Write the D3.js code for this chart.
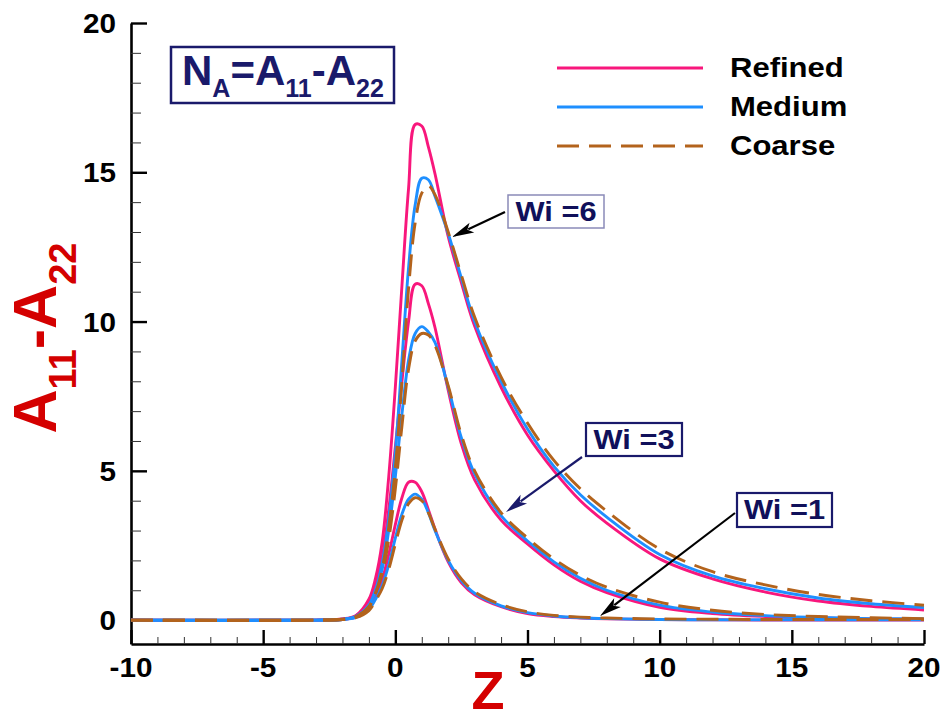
<!DOCTYPE html>
<html><head><meta charset="utf-8">
<script src="https://cdn.jsdelivr.net/npm/d3@7"></script>
<style>body{margin:0;background:#fff}svg{display:block}</style>
</head><body>
<svg id="c" width="947" height="721"></svg>
<script>
// ---------- data ----------
const zValues = [-10,-3,-2,-1.5,-1,-0.75,-0.5,-0.25,0,0.25,0.5,0.75,1,1.25,1.5,2,2.5,3,4,5,6,7,8,10,12,14,16,18,20];
const wi6Refined = [0,0,0.04,0.15,0.7,1.4,2.6,4.8,7.8,11.2,14.45,16.6,16.55,15.85,14.95,12.85,11.3,9.85,7.8,6.2,5.0,4.0,3.25,2.05,1.38,0.94,0.64,0.46,0.34];
const wi6Medium  = [0,0,0.03,0.12,0.5,1.0,1.9,3.4,5.6,8.7,11.8,13.9,14.8,14.75,14.2,12.95,11.45,10.0,8.0,6.4,5.15,4.2,3.45,2.2,1.48,1.05,0.74,0.55,0.42];
const wi6Coarse  = [0,0,0.03,0.11,0.45,0.9,1.7,3.1,5.1,8.0,11.1,13.3,14.3,14.55,14.25,13.0,11.55,10.15,8.15,6.6,5.35,4.4,3.65,2.38,1.62,1.18,0.86,0.65,0.5];
const wi3Refined = [0,0,0.03,0.14,0.6,1.2,2.1,3.7,5.8,8.0,10.0,11.25,11.2,10.6,9.8,7.7,5.9,4.7,3.35,2.55,1.85,1.3,0.92,0.43,0.22,0.12,0.07,0.04,0.03];
const wi3Medium  = [0,0,0.02,0.12,0.5,1.0,1.7,3.0,4.8,6.9,8.7,9.6,9.83,9.65,9.3,7.8,6.1,4.9,3.5,2.65,1.95,1.4,1.0,0.5,0.27,0.15,0.09,0.05,0.04];
const wi3Coarse  = [0,0,0.02,0.11,0.45,0.9,1.55,2.7,4.4,6.5,8.4,9.35,9.6,9.55,9.2,7.85,6.2,5.0,3.6,2.75,2.05,1.5,1.1,0.6,0.33,0.19,0.12,0.08,0.05];
const wi1Refined = [0,0,0.02,0.1,0.4,0.8,1.35,2.2,3.2,4.1,4.62,4.62,4.3,3.7,3.05,1.95,1.25,0.85,0.45,0.22,0.12,0.07,0.04,0.02,0.01,0,0,0,0];
const wi1Medium  = [0,0,0.02,0.09,0.35,0.7,1.15,1.85,2.75,3.55,4.05,4.22,4.05,3.6,3.0,2.0,1.32,0.9,0.48,0.25,0.14,0.08,0.05,0.02,0.01,0.01,0.01,0.01,0.01];
const wi1Coarse  = [0,0,0.02,0.08,0.32,0.65,1.05,1.7,2.55,3.35,3.9,4.1,4.0,3.6,3.05,2.05,1.38,0.95,0.52,0.28,0.16,0.1,0.07,0.04,0.03,0.02,0.02,0.02,0.02];
const seriesNames = ["Refined","Medium","Coarse"];
const xTicks = [-10,-5,0,5,10,15,20];
const yTicks = [0,5,10,15,20];
const xMinor = [-9,-8,-7,-6,-4,-3,-2,-1,1,2,3,4,6,7,8,9,11,12,13,14,16,17,18,19];
const yMinor = [1,2,3,4,6,7,8,9,11,12,13,14,16,17,18,19];
const annotationLabels = ["Wi =6","Wi =3","Wi =1"];

// ---------- setup ----------
const svg = d3.select("#c");
const FONT = "'Liberation Sans', Arial, sans-serif";
const SX = 1.1;
const x = d3.scaleLinear().domain([-10,20]).range([131,924]);
const y = d3.scaleLinear().domain([-0.8,20]).range([644,23]);
const colors = {Refined:"#f8177c", Medium:"#1e8fff", Coarse:"#b3631c"};
const dash = {Refined:null, Medium:null, Coarse:"22,10"};

function stext(sel, tx, ty, str, size, anchor, fill, sx){
  return sel.append("text")
    .attr("transform", `translate(${tx},${ty}) scale(${sx},1)`)
    .attr("text-anchor", anchor)
    .attr("font-family", FONT).attr("font-weight","bold")
    .attr("font-size", size).attr("fill", fill).text(str);
}

// ---------- axes ----------
const gx = svg.append("g").attr("transform","translate(0,644)")
  .call(d3.axisBottom(x).tickValues(xTicks).tickSize(-14).tickSizeOuter(0).tickFormat(""));
svg.append("g").attr("transform","translate(0,644)")
  .call(d3.axisBottom(x).tickValues(xMinor).tickSize(-7).tickSizeOuter(0).tickFormat(""))
  .call(g=>g.select(".domain").remove())
  .selectAll("line").attr("stroke","#333").attr("stroke-width",1);
const gy = svg.append("g").attr("transform","translate(131,0)")
  .call(d3.axisLeft(y).tickValues(yTicks).tickSize(-16).tickSizeOuter(0).tickFormat(""));
svg.append("g").attr("transform","translate(131,0)")
  .call(d3.axisLeft(y).tickValues(yMinor).tickSize(-10).tickSizeOuter(0).tickFormat(""))
  .call(g=>g.select(".domain").remove())
  .selectAll("line").attr("stroke","#333").attr("stroke-width",1);
[gx,gy].forEach(g=>{
  g.select(".domain").attr("stroke","#000").attr("stroke-width",2.6);
  g.selectAll(".tick line").attr("stroke","#000").attr("stroke-width",2.4);
});
xTicks.forEach(v=>stext(svg, x(v), 677, String(v), 27, "middle", "#000", SX));
yTicks.forEach(v=>stext(svg, 116, y(v)+10, String(v), 27, "end", "#000", SX));

// axis titles
stext(svg, 488, 709, "Z", 54, "middle", "#d40000", 1);
const yl = svg.append("text")
  .attr("transform","translate(56,338) rotate(-90)")
  .attr("text-anchor","middle").attr("font-family",FONT).attr("font-weight","bold")
  .attr("font-size",61).attr("fill","#d40000");
yl.append("tspan").text("A");
yl.append("tspan").attr("font-size",38).attr("dy",20).text("11");
yl.append("tspan").attr("dy",-20).text("-A");
yl.append("tspan").attr("font-size",38).attr("dy",20).text("22");

// ---------- curves ----------
const line = d3.line()
  .x((d,i)=>x(zValues[i]))
  .y(d=>y(d))
  .curve(d3.curveCatmullRom.alpha(0.5));
const groups = {
  Refined:[wi6Refined,wi3Refined,wi1Refined],
  Medium:[wi6Medium,wi3Medium,wi1Medium],
  Coarse:[wi6Coarse,wi3Coarse,wi1Coarse]
};
seriesNames.forEach(name=>{
  svg.append("g").selectAll("path").data(groups[name]).join("path")
    .attr("d", line).attr("fill","none")
    .attr("stroke", colors[name]).attr("stroke-width", 2.9)
    .attr("stroke-dasharray", dash[name]);
});

// ---------- legend ----------
const legY = [68,107,146];
seriesNames.forEach((name,i)=>{
  svg.append("line").attr("x1",557).attr("x2",703).attr("y1",legY[i]).attr("y2",legY[i])
    .attr("stroke",colors[name]).attr("stroke-width",3).attr("stroke-dasharray",dash[name]);
  stext(svg, 730, legY[i]+9, name, 27, "start", "#000", 1.15);
});

// ---------- title box ----------
svg.append("rect").attr("x",171).attr("y",47).attr("width",223).attr("height",56)
  .attr("fill","#fff").attr("stroke","#1a1a6b").attr("stroke-width",2.5);
const tt = svg.append("text").attr("x",182).attr("y",85)
  .attr("font-family",FONT).attr("font-weight","bold").attr("font-size",42).attr("fill","#1a1a6b");
tt.append("tspan").text("N");
tt.append("tspan").attr("font-size",25).attr("dy",12).text("A");
tt.append("tspan").attr("dy",-12).text("=A");
tt.append("tspan").attr("font-size",25).attr("dy",12).text("11");
tt.append("tspan").attr("dy",-12).text("-A");
tt.append("tspan").attr("font-size",25).attr("dy",12).text("22");

// ---------- annotations ----------
function arrow(x1,y1,x2,y2,color){
  const dx=x2-x1, dy=y2-y1, L=Math.hypot(dx,dy), ux=dx/L, uy=dy/L;
  const hl=22, hw=5.5;
  const bx=x2-ux*hl, by=y2-uy*hl;
  svg.append("line").attr("x1",x1).attr("y1",y1).attr("x2",bx+ux*4).attr("y2",by+uy*4)
    .attr("stroke",color).attr("stroke-width",2.2);
  svg.append("path").attr("d",`M${x2},${y2}L${bx-uy*hw},${by+ux*hw}L${bx+ux*5},${by+uy*5}L${bx+uy*hw},${by-ux*hw}Z`)
    .attr("fill",color);
}
const boxes = [
  {x:508,y:195,w:96,h:33,stroke:"#8a8ab8",sw:1.5,ax1:505,ay1:212,ax2:452,ay2:237,ac:"#000"},
  {x:586,y:423,w:96,h:33,stroke:"#1a1a6b",sw:2.2,ax1:582,ay1:457,ax2:506,ay2:512,ac:"#1a1a6b"},
  {x:737,y:493,w:95,h:34,stroke:"#1a1a6b",sw:2.2,ax1:735,ay1:513,ax2:600,ay2:616,ac:"#000"}
];
boxes.forEach((b,i)=>{
  arrow(b.ax1,b.ay1,b.ax2,b.ay2,b.ac);
  svg.append("rect").attr("x",b.x).attr("y",b.y).attr("width",b.w).attr("height",b.h)
    .attr("fill","#fff").attr("stroke",b.stroke).attr("stroke-width",b.sw);
  stext(svg, b.x+b.w/2, b.y+26, annotationLabels[i], 28, "middle", "#10105a", SX);
});
</script>
</body></html>
